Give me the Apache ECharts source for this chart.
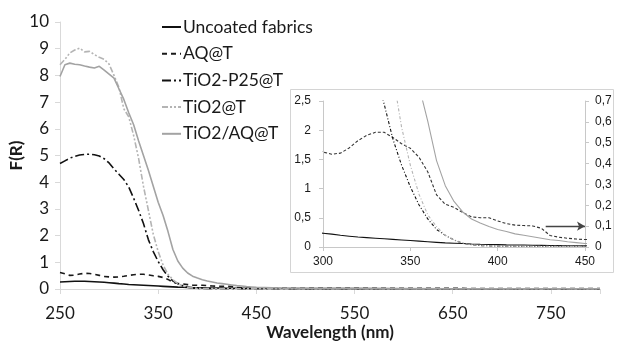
<!DOCTYPE html>
<html>
<head>
<meta charset="utf-8">
<script src="https://cdn.jsdelivr.net/npm/echarts@6/dist/echarts.min.js"></script>
<style>html,body{margin:0;padding:0;background:#fff}#c{width:619px;height:345px}</style>
</head>
<body>
<div id="c"></div>
<script>
// Wavelengths (nm)
var wavelengths = [250,255,260,265,270,275,280,285,290,295,300,305,310,315,320,325,330,335,340,345,350,355,360,365,370,375,380,385,390,395,400,405,410,415,420,425,430,435,440,445,450,475,500,550,600,650,700,750,800];
// F(R) values
var uncoated = [0.26,0.27,0.28,0.29,0.29,0.29,0.28,0.27,0.26,0.25,0.235,0.22,0.2,0.185,0.17,0.16,0.15,0.14,0.13,0.12,0.11,0.1,0.09,0.08,0.07,0.065,0.06,0.052,0.046,0.043,0.04,0.037,0.035,0.033,0.03,0.028,0.026,0.024,0.022,0.021,0.02,0.017,0.015,0.013,0.012,0.011,0.01,0.01,0.01];
var aqT = [0.62,0.57,0.51,0.52,0.56,0.59,0.58,0.55,0.51,0.47,0.455,0.445,0.45,0.475,0.51,0.535,0.55,0.55,0.525,0.495,0.473,0.43,0.36,0.25,0.205,0.19,0.165,0.145,0.14,0.14,0.125,0.112,0.105,0.103,0.101,0.09,0.055,0.047,0.042,0.038,0.036,0.03,0.028,0.025,0.023,0.022,0.02,0.02,0.02];
var p25T = [4.7,4.8,4.9,4.97,5.02,5.04,5.05,5.03,4.98,4.88,4.72,4.5,4.3,4.1,3.82,3.4,2.95,2.45,1.85,1.4,1.03,0.72,0.48,0.3,0.2,0.12,0.065,0.04,0.025,0.02,0.015,0.013,0.012,0.011,0.01,0.01,0.01,0.01,0.01,0.01,0.01,0.01,0.01,0.01,0.01,0.01,0.01,0.01,0.01];
var tio2T = [8.4,8.6,8.84,8.95,9.02,8.88,8.9,8.78,8.68,8.6,8.42,8.0,7.55,6.75,6.45,5.75,4.9,3.85,2.95,2.05,1.4,0.9,0.55,0.35,0.2,0.12,0.065,0.04,0.025,0.02,0.015,0.013,0.012,0.011,0.01,0.01,0.01,0.01,0.01,0.01,0.01,0.01,0.01,0.01,0.01,0.01,0.01,0.01,0.01];
var tio2AqT = [7.96,8.4,8.46,8.42,8.4,8.35,8.31,8.28,8.34,8.2,8.05,7.9,7.5,7.1,6.6,6.15,5.55,5.0,4.45,3.85,3.25,2.75,2.15,1.48,1.05,0.78,0.6,0.48,0.41,0.35,0.3,0.265,0.225,0.2,0.175,0.15,0.125,0.11,0.09,0.075,0.06,0.04,0.03,0.02,0.015,0.012,0.012,0.012,0.012];
var seriesNames = ['Uncoated fabrics','AQ@T','TiO2-P25@T','TiO2@T','TiO2/AQ@T'];
// Arrow in inset pointing to the right axis (wavelength, right-axis value)
var arrowFrom = [427.5, 0.1];
var arrowTo = [450, 0.1];

function pairs(vals){ return wavelengths.map(function(w,i){ return [w, vals[i]]; }); }
var allVals = [uncoated, aqT, p25T, tio2T, tio2AqT];
var styles = [
  {color:'#111111', type:'solid', w:1.6, wi:1.1},
  {color:'#1a1a1a', type:[5,4], wi:1.1, w:1.6, typei:[3,2]},
  {color:'#111111', type:[9,3,2,3], w:1.6, wi:1.1, typei:[3,2,1,2]},
  {color:'#b4b4b4', type:[6,2,2,2,2,2], w:1.6, wi:1.1, typei:[3,2,1,2]},
  {color:'#a3a3a3', type:'solid', w:1.6, wi:1.1}
];
var series = [];
allVals.forEach(function(v,i){
  series.push({name:seriesNames[i], type:'line', xAxisIndex:0, yAxisIndex:0, data:pairs(v), symbol:'none', showSymbol:false, z:2,
    lineStyle:{color:styles[i].color, width:styles[i].w, type:styles[i].type}, itemStyle:{color:styles[i].color}});
});
allVals.forEach(function(v,i){
  var s = {name:seriesNames[i], type:'line', xAxisIndex:1, yAxisIndex: i===1 ? 2 : 1, data:pairs(v), symbol:'none', showSymbol:false, clip:true, z:3,
    lineStyle:{color: i===1 ? '#333' : styles[i].color, width:styles[i].wi, type:styles[i].typei || styles[i].type}, itemStyle:{color:styles[i].color}};
  if (i===1) {
    s.markLine = {silent:true, symbol:['none','arrow'], symbolSize:[7,8], label:{show:false},
      lineStyle:{color:'#444', width:1.3, type:'solid'},
      data:[[{coord:arrowFrom},{coord:arrowTo}]]};
  }
  series.push(s);
});

var comma = function(v){ return String(Math.round(v*10)/10).replace('.', ','); };
var mainFont = 'Lato';
var insetFont = 'Liberation Sans';
var chart = echarts.init(document.getElementById('c'), null, {renderer:'canvas'});
chart.setOption({
  animation:false,
  backgroundColor:'#fff',
  graphic:[{type:'rect', z:-1, shape:{x:290.5, y:89.5, width:323, height:183}, style:{fill:'#fff', stroke:'#d4d4d4', lineWidth:1}}],
  legend:{orient:'vertical', left:156, top:12, itemWidth:19, itemHeight:14, itemGap:6.7,
    itemStyle:{opacity:0, borderWidth:0},
    data:seriesNames, textStyle:{fontFamily:mainFont, fontSize:17.5, color:'#1a1a1a', lineHeight:20, padding:[0,0,0,-3]}},
  grid:[{left:60, top:22, right:19, bottom:56, outerBoundsMode:'none', containLabel:false},
        {left:323, top:101, right:34, bottom:98, outerBoundsMode:'none', containLabel:false}],
  xAxis:[
    {gridIndex:0, type:'value', min:250, max:800, interval:100,
     name:'Wavelength (nm)', nameLocation:'middle', nameGap:35, nameMoveOverlap:false,
     nameTextStyle:{fontFamily:mainFont, fontWeight:'bold', fontSize:17, color:'#1a1a1a'},
     axisLine:{lineStyle:{color:'#d9d9d9', width:1}}, axisTick:{show:true, length:5, lineStyle:{color:'#d9d9d9'}},
     splitLine:{show:false},
     axisLabel:{fontFamily:mainFont, fontSize:17, color:'#1a1a1a', margin:16, formatter:function(v){return v===800?'':String(v);}}},
    {gridIndex:1, type:'value', min:300, max:450, interval:50,
     axisLine:{lineStyle:{color:'#c8c8c8'}}, axisTick:{show:true, length:4, lineStyle:{color:'#c8c8c8'}},
     splitLine:{show:false},
     axisLabel:{fontFamily:insetFont, fontSize:12, color:'#1a1a1a', margin:9}}
  ],
  yAxis:[
    {gridIndex:0, type:'value', min:0, max:10, interval:1,
     name:'F(R)', nameLocation:'middle', nameGap:35, nameRotate:90, nameMoveOverlap:false,
     nameTextStyle:{fontFamily:mainFont, fontWeight:'bold', fontSize:17, color:'#1a1a1a'},
     axisLine:{show:true, lineStyle:{color:'#d9d9d9'}}, axisTick:{show:true, length:5, lineStyle:{color:'#d9d9d9'}},
     splitLine:{show:false},
     axisLabel:{fontFamily:mainFont, fontSize:17, color:'#1a1a1a', margin:11}},
    {gridIndex:1, type:'value', position:'left', min:0, max:2.5, interval:0.5,
     axisLine:{show:true, lineStyle:{color:'#c8c8c8'}}, axisTick:{show:true, length:4, lineStyle:{color:'#c8c8c8'}},
     splitLine:{show:false},
     axisLabel:{fontFamily:insetFont, fontSize:12, color:'#1a1a1a', margin:12, formatter:comma}},
    {gridIndex:1, type:'value', position:'right', min:0, max:0.7, interval:0.1,
     axisLine:{show:true, lineStyle:{color:'#c8c8c8'}}, axisTick:{show:true, length:4, lineStyle:{color:'#c8c8c8'}},
     splitLine:{show:false},
     axisLabel:{fontFamily:insetFont, fontSize:12, color:'#1a1a1a', margin:10, formatter:comma}}
  ],
  series:series
});
</script>
</body>
</html>
